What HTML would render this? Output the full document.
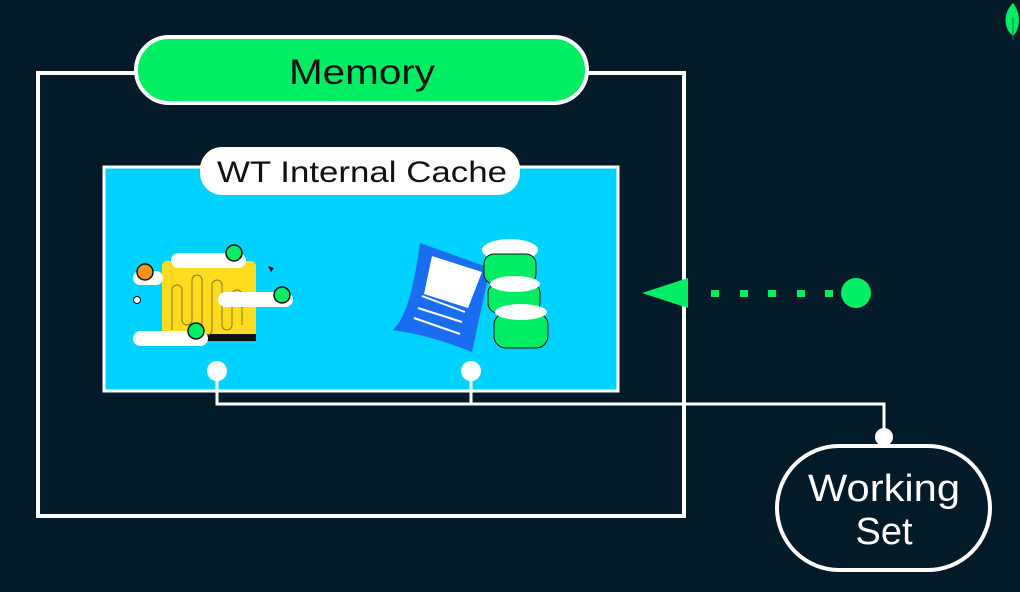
<!DOCTYPE html>
<html><head><meta charset="utf-8"><style>
html,body{margin:0;padding:0;background:#031b29;}
svg{display:block}
text{font-family:"Liberation Sans",sans-serif;}
</style></head><body>
<svg width="1020" height="592" viewBox="0 0 1020 592" xmlns="http://www.w3.org/2000/svg">
<rect width="1020" height="592" fill="#031b29"/>
<path d="M1013 3 C1003 13,1003 28,1013 36 C1021 28,1021 13,1013 3Z" fill="#00ed64"/>
<line x1="1013" y1="18" x2="1013" y2="40" stroke="#0a7a3a" stroke-width="1"/>
<rect x="38" y="73" width="646" height="443" fill="none" stroke="#fff" stroke-width="4"/>
<rect x="104" y="167" width="514" height="224" fill="#00d2ff" stroke="#fff" stroke-width="3"/>
<rect x="136" y="37" width="451" height="66" rx="33" fill="#00ed64" stroke="#fff" stroke-width="4"/>
<text x="289" y="84" font-size="35" fill="#111" textLength="146" lengthAdjust="spacingAndGlyphs">Memory</text>
<rect x="200" y="147" width="320" height="48" rx="22" fill="#fff"/>
<text x="217" y="182" font-size="30" fill="#111" textLength="290" lengthAdjust="spacingAndGlyphs">WT Internal Cache</text>
<rect x="162" y="261" width="94" height="79" rx="5" fill="#ffdc1e"/>
<rect x="206" y="334" width="50" height="7" fill="#111"/>
<path d="M172 330 v-40 a5 5 0 0 1 10 0 v30 a5 5 0 0 0 10 0 v-40 a5 5 0 0 1 10 0 v50 a5 5 0 0 0 10 0 v-45 a5 5 0 0 1 10 0 v40 a5 5 0 0 0 10 0 v-30 a5 5 0 0 1 10 0 v30" fill="none" stroke="#8a7a20" stroke-width="1"/>
<rect x="171" y="253" width="75" height="15" rx="7.5" fill="#fff"/>
<circle cx="234" cy="253" r="8" fill="#00ed64" stroke="#111" stroke-width="1.5"/>
<rect x="133" y="271" width="30" height="14" rx="7" fill="#fff"/>
<circle cx="145" cy="272" r="8" fill="#f7941d" stroke="#111" stroke-width="1.5"/>
<rect x="218" y="292" width="75" height="15" rx="7.5" fill="#fff"/>
<circle cx="282" cy="295" r="8" fill="#00ed64" stroke="#111" stroke-width="1.5"/>
<rect x="133" y="331" width="75" height="15" rx="7.5" fill="#fff"/>
<circle cx="196" cy="331" r="8" fill="#00ed64" stroke="#111" stroke-width="1.5"/>
<circle cx="137" cy="300" r="3.5" fill="#fff" stroke="#111"/>
<path d="M268 266 l6 2 l-3 4z" fill="#111"/>
<path d="M420 243 L490 268 L472 352 Q430 335 392 330 Q410 318 420 243Z" fill="#1a6cf0"/>
<path d="M432 256 L482 272 L468 308 L424 294Z" fill="#fff"/>
<line x1="422" y1="296" x2="465" y2="312" stroke="#fff" stroke-width="2"/>
<line x1="418" y1="308" x2="462" y2="322" stroke="#fff" stroke-width="2"/>
<line x1="414" y1="318" x2="460" y2="334" stroke="#fff" stroke-width="2"/>
<ellipse cx="510" cy="250" rx="28" ry="11" fill="#fff"/>
<rect x="484" y="254" width="52" height="30" rx="10" fill="#00ed64" stroke="#111" stroke-width="1"/>
<rect x="488" y="283" width="52" height="30" rx="10" fill="#00ed64" stroke="#111" stroke-width="1"/>
<ellipse cx="515" cy="284" rx="25" ry="8" fill="#fff"/>
<rect x="494" y="313" width="54" height="35" rx="12" fill="#00ed64" stroke="#111" stroke-width="1"/>
<ellipse cx="521" cy="312" rx="26" ry="8" fill="#fff"/>
<g stroke="#fff" stroke-width="3" fill="none">
<polyline points="217,371 217,404 884,404 884,437"/>
<line x1="471" y1="371" x2="471" y2="404"/>
</g>
<circle cx="217" cy="371" r="10" fill="#fff"/>
<circle cx="471" cy="371" r="10" fill="#fff"/>
<circle cx="884" cy="437" r="9" fill="#fff"/>
<rect x="777" y="446" width="213" height="124" rx="62" fill="#031b29" stroke="#fff" stroke-width="4"/>
<text x="808" y="501" font-size="38" fill="#fff" textLength="152" lengthAdjust="spacingAndGlyphs">Working</text>
<text x="884" y="544" text-anchor="middle" font-size="38" fill="#fff">Set</text>
<polygon points="642,293 688,278 688,308" fill="#00ed64"/>
<g fill="#00ed64">
<rect x="711" y="290" width="8" height="7"/>
<rect x="740" y="290" width="8" height="7"/>
<rect x="768" y="290" width="8" height="7"/>
<rect x="797" y="290" width="8" height="7"/>
<rect x="825" y="290" width="8" height="7"/>
</g>
<circle cx="856" cy="293" r="15" fill="#00ed64"/>
</svg>
</body></html>
